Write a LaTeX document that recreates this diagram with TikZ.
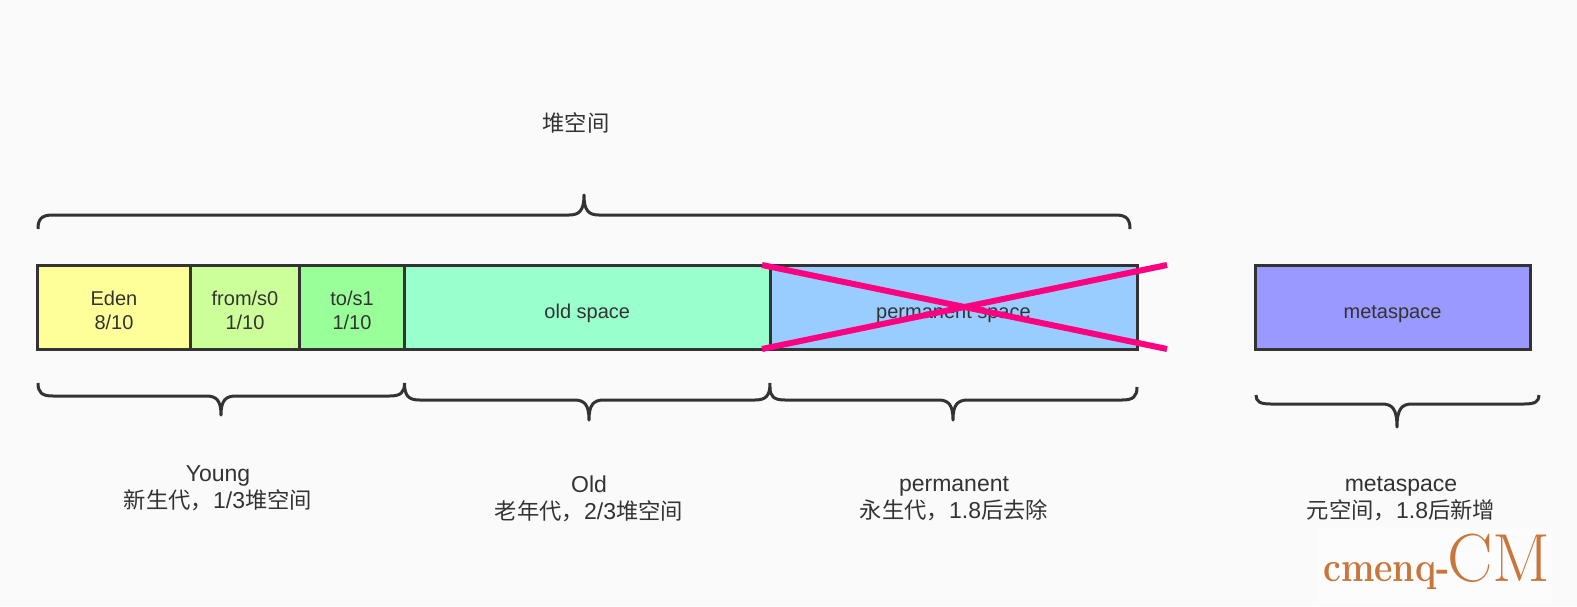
\documentclass[tikz,border=0pt]{standalone}
\usepackage{fontspec}
\setmainfont{Liberation Sans}
\newfontfamily\cjk{Noto Sans CJK SC}[Scale=0.97]
\newfontfamily\wm{Latin Modern Roman}
\newfontfamily\wmb{Latin Modern Roman}[UprightFont=*/B]
\definecolor{bg}{HTML}{FAFAFA}
\definecolor{ink}{HTML}{333333}
\definecolor{cross}{HTML}{FF0080}
\definecolor{wmc}{HTML}{C8763C}
\newcommand{\bracepath}[6]{% xl xr xtip ystart yline ytip
  \draw[bracel] (#1,#4) .. controls (#1,{#4+(#5-#4)*0.75}) and (#1+4,#5) .. (#1+15,#5)
    -- ({#3-15},#5) .. controls ({#3-5},#5) and (#3,{#5+(#6-#5)*0.2}) .. (#3,#6)
    .. controls (#3,{#5+(#6-#5)*0.2}) and ({#3+5},#5) .. ({#3+15},#5)
    -- ({#2-15},#5) .. controls ({#2-4},#5) and (#2,{#4+(#5-#4)*0.75}) .. (#2,#4);}
\newcommand{\lowertext}[2]{\raisebox{-#1pt}[14pt][4pt]{#2}}
\tikzset{
  memblock/.style={draw=ink,line width=3pt,minimum height=84pt,inner sep=0pt,outer sep=0pt,anchor=north west,
    text=ink,font=\fontsize{20}{24}\selectfont,align=center},
  bracel/.style={draw=ink,line width=3pt,line join=round},
  caption/.style={text=ink,align=center,inner sep=0pt,font=\fontsize{23}{27}\selectfont},
  crossl/.style={draw=cross,line width=6pt}
}
\begin{document}
\begin{tikzpicture}[x=1pt,y=-1pt]
\useasboundingbox (0,0) rectangle (1577,606);
\fill[bg] (0,0) rectangle (1577,606);
\fill[white!40!bg] (1318,527) rectangle (1552,604);

\node[memblock,fill={rgb,255:red,255;green,255;blue,153},minimum width=153pt] (eden) at (37.5,265) {\lowertext{5}{Eden}\\\lowertext{5}{8/10}};
\node[memblock,fill={rgb,255:red,204;green,255;blue,153},minimum width=109pt] (from) at (190.5,265) {\lowertext{5}{from/s0}\\\lowertext{5}{1/10}};
\node[memblock,fill={rgb,255:red,153;green,255;blue,153},minimum width=105pt] (to) at (299.5,265) {\lowertext{5}{to/s1}\\\lowertext{5}{1/10}};
\node[memblock,fill={rgb,255:red,153;green,255;blue,204},minimum width=365.5pt] (old) at (404.5,265) {\lowertext{6}{old space}};
\node[memblock,fill={rgb,255:red,153;green,204;blue,255},minimum width=367pt] (perm) at (770,265) {\lowertext{6}{permanent space}};
\node[memblock,fill={rgb,255:red,153;green,153;blue,255},minimum width=275pt] (meta) at (1255,265) {\lowertext{6}{metaspace}};

\coordinate (xa) at (762,265);
\coordinate (xb) at (1167,349);
\coordinate (xc) at (762,349);
\coordinate (xd) at (1167,265);
\draw[crossl] (xa) -- (xb);
\draw[crossl] (xc) -- (xd);

\bracepath{38}{1130}{584}{229}{215}{195}
\bracepath{38}{404.5}{221}{383}{396}{415}
\bracepath{404.5}{770}{589}{383}{400}{420}
\bracepath{770}{1137}{953}{387}{400}{420}
\bracepath{1256}{1539}{1397}{395}{404}{427}

\node[caption] (heap) at (576,123) {\cjk 堆空间};
\node[caption] (young) at (218,488.5) {Young\\{\cjk 新生代，}1/3{\cjk 堆空间}};
\node[caption] (oldc) at (589,499) {Old\\{\cjk 老年代，}2/3{\cjk 堆空间}};
\node[caption] (permc) at (954,499) {permanent\\{\cjk 永生代，}1.8{\cjk 后去除}};
\node[caption] (metac) at (1401,499) {metaspace\\{\cjk 元空间，}1.8{\cjk 后新增}};

\node[anchor=base west,inner sep=0pt,text=wmc,xscale=0.85] (wma) at (1323,581) {\wmb\fontsize{42}{42}\selectfont cmenq-};
\node[anchor=base west,inner sep=0pt,text=wmc,xscale=1.0] (wmz) at (1447,581) {\wm\fontsize{68}{68}\selectfont CM};
\end{tikzpicture}
\end{document}
